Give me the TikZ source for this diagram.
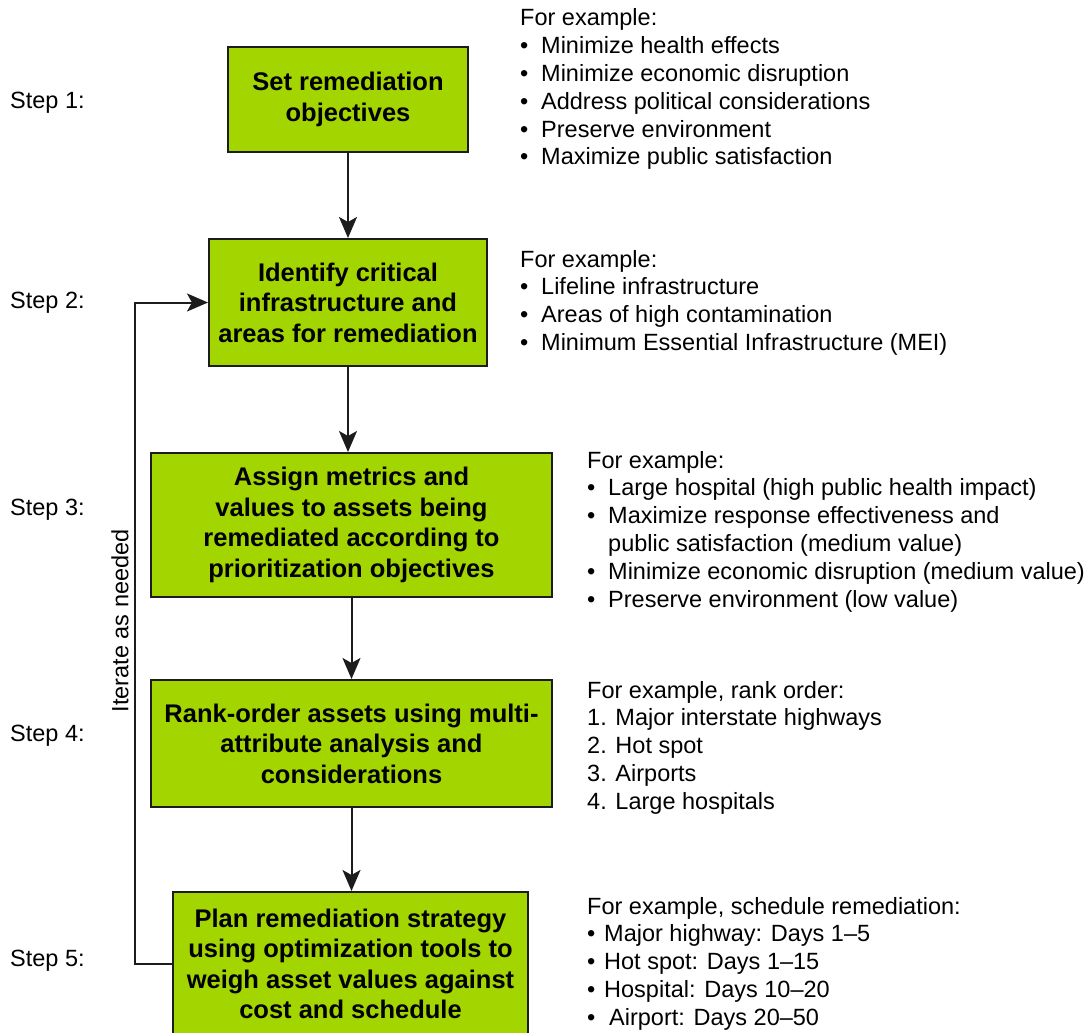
\documentclass[tikz,border=0pt]{standalone}
\usepackage{fontspec}
\setmainfont{Liberation Sans}
\usetikzlibrary{arrows.meta}

\definecolor{boxgreen}{RGB}{163,213,0}
\definecolor{edgegray}{RGB}{28,28,28}

% bulleted lines with a fixed hanging width
\newcommand{\bt}[1]{\makebox[21pt][l]{\textbullet}#1}
\newcommand{\bs}[1]{\makebox[17pt][l]{\textbullet}#1}

\begin{document}
\begin{tikzpicture}[x=1pt,y=-1pt,
  stepbox/.style={draw=edgegray, line width=2pt, fill=boxgreen, inner sep=0pt,
    align=center, font=\fontsize{25.5}{30.5}\selectfont\bfseries},
  flow/.style={draw=edgegray, line width=2pt,
    -{Stealth[length=21pt,width=18pt,inset=5pt]}},
  steplabel/.style={anchor=base west, inner sep=0pt, font=\fontsize{23.5}{28}\selectfont},
  notes/.style={anchor=base west, inner sep=0pt, font=\fontsize{23.5}{27.8}\selectfont}]

\clip (0,0) rectangle (1085,1033);

% process boxes
\node[stepbox, minimum width=240pt, minimum height=105pt] (b1) at (348,99.5)
  {Set remediation\\objectives};
\node[stepbox, minimum width=278pt, minimum height=127pt] (b2) at (348,302.5)
  {Identify critical\\infrastructure and\\areas for remediation};
\node[stepbox, minimum width=401pt, minimum height=144pt] (b3) at (351.5,525)
  {Assign metrics and\\values to assets being\\remediated according to\\prioritization objectives};
\node[stepbox, minimum width=401pt, minimum height=127pt] (b4) at (351.5,743.5)
  {Rank-order assets using multi-\\attribute analysis and\\considerations};
\node[stepbox, minimum width=355pt, minimum height=144pt] (b5) at (350.5,964)
  {Plan remediation strategy\\using optimization tools to\\weigh asset values against\\cost and schedule};

% step labels
\node[steplabel] (s1) at (10,108) {Step 1:};
\node[steplabel] (s2) at (10,308) {Step 2:};
\node[steplabel] (s3) at (10,515) {Step 3:};
\node[steplabel] (s4) at (10,741) {Step 4:};
\node[steplabel] (s5) at (10,966) {Step 5:};

% main flow
\draw[flow] (b1.south) -- (b1.south |- b2.north);
\draw[flow] (b2.south) -- (b2.south |- b3.north);
\draw[flow] (b3.south) -- (b3.south |- b4.north);
\draw[flow] (b4.south) -- (b4.south |- b5.north);

% feedback loop
\coordinate (loopx) at (135,0);
\draw[flow] (b5.west) -- (b5.west -| loopx) |- (b2.west);
\node[rotate=90, inner sep=0pt, font=\fontsize{23.5}{28}\selectfont] (iter) at (120,621)
  {Iterate as needed};

% example notes
\node[notes] (n1) at (520,26) {\parbox[t]{560pt}{\raggedright
  For example:\\
  \bt{Minimize health effects}\\
  \bt{Minimize economic disruption}\\
  \bt{Address political considerations}\\
  \bt{Preserve environment}\\
  \bt{Maximize public satisfaction}}};

\node[notes] (n2) at (520,267) {\parbox[t]{560pt}{\raggedright
  For example:\\
  \bt{Lifeline infrastructure}\\
  \bt{Areas of high contamination}\\
  \bt{Minimum Essential Infrastructure (MEI)}}};

\node[notes] (n3) at (587,468) {\parbox[t]{560pt}{\raggedright
  For example:\\
  \bt{Large hospital (high public health impact)}\\
  \bt{Maximize response effectiveness and}\\
  \hspace*{21pt}public satisfaction (medium value)\\
  \bt{Minimize economic disruption (medium value)}\\
  \bt{Preserve environment (low value)}}};

\node[notes] (n4) at (587,698) {\parbox[t]{560pt}{\raggedright
  For example, rank order:\\
  1. Major interstate highways\\
  2. Hot spot\\
  3. Airports\\
  4. Large hospitals}};

\node[notes] (n5) at (587,914) {\parbox[t]{560pt}{\raggedright
  For example, schedule remediation:\\
  \bs{Major highway: Days 1–5}\\
  \bs{Hot spot: Days 1–15}\\
  \bs{Hospital: Days 10–20}\\
  \makebox[22pt][l]{\textbullet}Airport: Days 20–50}};

\end{tikzpicture}
\end{document}
